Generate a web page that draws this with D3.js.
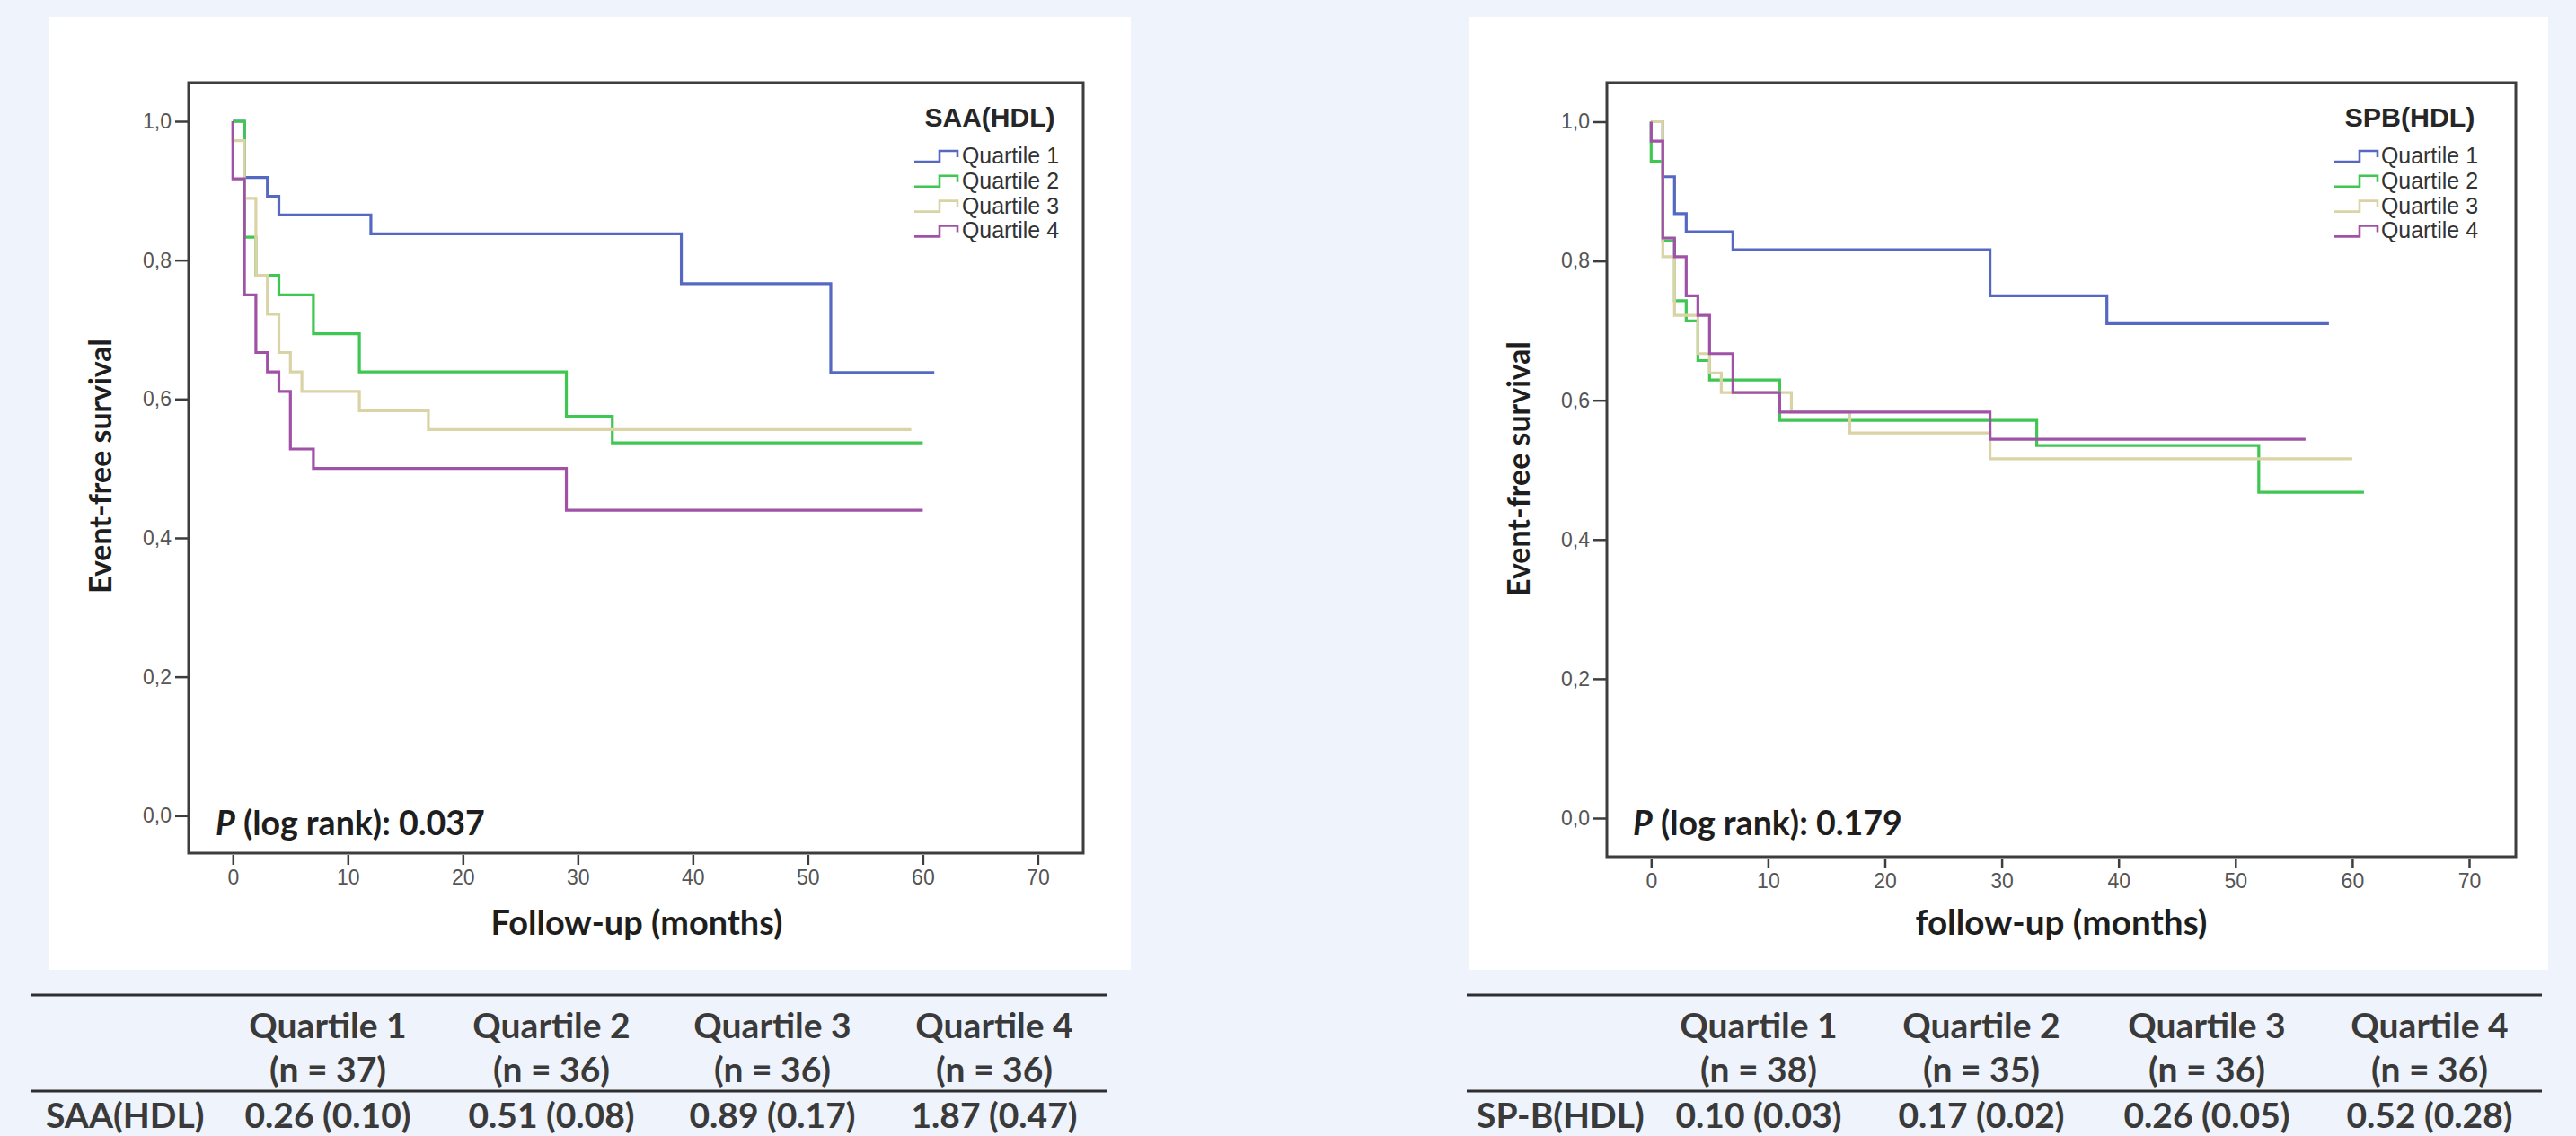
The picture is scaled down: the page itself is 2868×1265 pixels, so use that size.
<!DOCTYPE html>
<html>
<head>
<meta charset="utf-8">
<script src="https://cdn.jsdelivr.net/npm/d3@7"></script>
<style>
  html, body { margin: 0; padding: 0; background: #eef3fc; }
  svg { display: block; }
</style>
</head>
<body>
<svg id="chart" width="2868" height="1265"></svg>
<script>
// ---------------- DATA ----------------
const monthTicks = [0, 10, 20, 30, 40, 50, 60, 70];
const survivalTicks = [0, 0.2, 0.4, 0.6, 0.8, 1.0];
const quartileNames = ["Quartile 1", "Quartile 2", "Quartile 3", "Quartile 4"];
const seriesColors = ["#5569c2", "#3fc653", "#d9d3a6", "#a052a6"];

// Kaplan-Meier steps: [month, survival] (last point = end of follow-up)
const saaQ1 = [[0,1],[1,0.919],[3,0.892],[4,0.865],[12,0.838],[39,0.766],[52,0.638],[61,0.638]];
const saaQ2 = [[0,1],[1,0.833],[2,0.778],[4,0.750],[7,0.694],[11,0.639],[29,0.575],[33,0.537],[60,0.537]];
const saaQ3 = [[0,1],[0,0.972],[1,0.889],[2,0.778],[3,0.722],[4,0.667],[5,0.639],[6,0.611],[11,0.583],[17,0.556],[59,0.556]];
const saaQ4 = [[0,1],[0,0.917],[1,0.750],[2,0.667],[3,0.639],[4,0.611],[5,0.528],[7,0.500],[29,0.440],[60,0.440]];

const spbQ1 = [[0,1],[1,0.921],[2,0.868],[3,0.842],[7,0.816],[29,0.750],[39,0.710],[58,0.710]];
const spbQ2 = [[0,1],[0,0.943],[1,0.829],[2,0.743],[3,0.714],[4,0.657],[5,0.629],[11,0.571],[33,0.535],[52,0.468],[61,0.468]];
const spbQ3 = [[0,1],[1,0.806],[2,0.722],[4,0.667],[5,0.639],[6,0.611],[12,0.583],[17,0.553],[29,0.516],[60,0.516]];
const spbQ4 = [[0,1],[0,0.972],[1,0.833],[2,0.806],[3,0.750],[4,0.722],[5,0.667],[7,0.611],[11,0.583],[29,0.544],[56,0.544]];

// Tables
const saaCounts = ["(n = 37)", "(n = 36)", "(n = 36)", "(n = 36)"];
const saaValues = ["0.26 (0.10)", "0.51 (0.08)", "0.89 (0.17)", "1.87 (0.47)"];
const spbCounts = ["(n = 38)", "(n = 35)", "(n = 36)", "(n = 36)"];
const spbValues = ["0.10 (0.03)", "0.17 (0.02)", "0.26 (0.05)", "0.52 (0.28)"];

// ---------------- LAYOUT ----------------
const svg = d3.select("#chart");
svg.append("rect").attr("width", 2868).attr("height", 1265).attr("fill", "#eef3fc");

const panels = [
  {
    card: [54, 19, 1259, 1080],
    frame: [210, 92, 1206, 950],
    xRange: [259.3, 1155.4], yRange: [908.3, 135],
    series: [saaQ1, saaQ2, saaQ3, saaQ4],
    legendTitle: "SAA(HDL)", legendTitleX: 1102, legendSymX: 1018, legendTextX: 1071,
    xTitle: "Follow-up (months)", xTitleX: 709, yTitleX: 113, yTitleY: 519,
    pValue: "0.037", pX: 240,
    table: { x0: 35, x1: 1233, label: "SAA(HDL)", labelX: 51, cols: [365, 614, 860, 1107], counts: saaCounts, values: saaValues }
  },
  {
    card: [1636, 19, 2837, 1080],
    frame: [1789, 92, 2801, 954],
    xRange: [1838.3, 2749], yRange: [911, 135.5],
    series: [spbQ1, spbQ2, spbQ3, spbQ4],
    legendTitle: "SPB(HDL)", legendTitleX: 2683, legendSymX: 2599, legendTextX: 2651,
    xTitle: "follow-up (months)", xTitleX: 2295, yTitleX: 1692, yTitleY: 522,
    pValue: "0.179", pX: 1818,
    table: { x0: 1633, x1: 2830, label: "SP-B(HDL)", labelX: 1644, cols: [1958, 2206, 2457, 2705], counts: spbCounts, values: spbValues }
  }
];

const axisColor = "#3d3d3d";
const calibri = "Lato, 'Open Sans', sans-serif";
const arial = "'Liberation Sans', Arial, sans-serif";

function fit(sel, target) {
  const node = sel.node();
  const w = node.getComputedTextLength();
  const fs = parseFloat(sel.attr("font-size"));
  if (w > 0) sel.attr("font-size", (fs * target / w).toFixed(2));
  return sel;
}

panels.forEach(p => {
  // card
  svg.append("rect")
    .attr("x", p.card[0]).attr("y", p.card[1])
    .attr("width", p.card[2] - p.card[0]).attr("height", p.card[3] - p.card[1])
    .attr("fill", "#ffffff");

  const x = d3.scaleLinear().domain([0, 70]).range(p.xRange);
  const y = d3.scaleLinear().domain([0, 1]).range(p.yRange);

  const g = svg.append("g");

  // frame
  g.append("rect")
    .attr("x", p.frame[0]).attr("y", p.frame[1])
    .attr("width", p.frame[2] - p.frame[0]).attr("height", p.frame[3] - p.frame[1])
    .attr("fill", "none").attr("stroke", axisColor).attr("stroke-width", 3);

  // y axis
  const yAxis = g.append("g")
    .attr("transform", `translate(${p.frame[0] - 1},0)`)
    .call(d3.axisLeft(y).tickValues(survivalTicks).tickSize(14).tickPadding(4)
      .tickFormat(d => d3.format(".1f")(d).replace(".", ",")));
  yAxis.select(".domain").remove();
  yAxis.selectAll(".tick line").attr("stroke", axisColor).attr("stroke-width", 2.5);
  yAxis.selectAll(".tick text").attr("font-family", arial).attr("font-size", 23).attr("fill", "#555");

  // x axis
  const xAxis = g.append("g")
    .attr("transform", `translate(0,${p.frame[3] + 2})`)
    .call(d3.axisBottom(x).tickValues(monthTicks).tickSize(11).tickPadding(6));
  xAxis.select(".domain").remove();
  xAxis.selectAll(".tick line").attr("stroke", axisColor).attr("stroke-width", 2.5);
  xAxis.selectAll(".tick text").attr("font-family", arial).attr("font-size", 23).attr("fill", "#555");

  // survival curves
  const line = d3.line().x(d => x(d[0])).y(d => y(d[1])).curve(d3.curveStepAfter);
  p.series.forEach((s, i) => {
    g.append("path").datum(s)
      .attr("d", line)
      .attr("fill", "none")
      .attr("stroke", seriesColors[i])
      .attr("stroke-width", 3.2);
  });

  // legend
  const lt = g.append("text").text(p.legendTitle)
    .attr("x", p.legendTitleX).attr("y", 141)
    .attr("text-anchor", "middle")
    .attr("font-family", arial).attr("font-weight", "bold").attr("font-size", 28).attr("fill", "#262626");
  fit(lt, 145);
  quartileNames.forEach((name, i) => {
    const yc = 174 + i * 27.8;
    const sx = p.legendSymX;
    g.append("path")
      .attr("d", `M${sx},${yc + 6}H${sx + 28}V${yc - 6}H${sx + 48}V${yc + 1}`)
      .attr("fill", "none").attr("stroke", seriesColors[i]).attr("stroke-width", 2.6);
    const t = g.append("text").text(name)
      .attr("x", p.legendTextX).attr("y", yc + 8)
      .attr("font-family", arial).attr("font-size", 24).attr("fill", "#333");
    fit(t, 108);
  });

  // axis titles
  const xt = g.append("text").text(p.xTitle)
    .attr("x", p.xTitleX).attr("y", 1041)
    .attr("text-anchor", "middle")
    .attr("font-family", calibri).attr("font-weight", "bold").attr("font-size", 34).attr("fill", "#1e1e1e");
  fit(xt, 325);
  const yt = g.append("text").text("Event-free survival")
    .attr("transform", `translate(${p.yTitleX + 11},${p.yTitleY}) rotate(-90)`)
    .attr("text-anchor", "middle")
    .attr("font-family", calibri).attr("font-weight", "bold").attr("font-size", 34).attr("fill", "#1e1e1e");
  fit(yt, 284);

  // p value
  const pt = g.append("text")
    .attr("x", p.pX).attr("y", 930)
    .attr("font-family", calibri).attr("font-weight", "bold").attr("font-size", 32).attr("fill", "#1e1e1e");
  pt.append("tspan").attr("font-style", "italic").text("P");
  pt.append("tspan").text(" (log rank): " + p.pValue);
  fit(pt, 300);

  // table
  const tb = p.table;
  const tg = svg.append("g");
  [1108, 1215].forEach(ly => {
    tg.append("line").attr("x1", tb.x0).attr("x2", tb.x1).attr("y1", ly).attr("y2", ly)
      .attr("stroke", "#2e2e2e").attr("stroke-width", 3.2);
  });
  const tstyle = s => s.attr("font-family", calibri).attr("font-weight", "bold")
    .attr("font-size", 39).attr("fill", "#3a3a3a");
  quartileNames.forEach((name, i) => {
    tstyle(tg.append("text").text(name).attr("x", tb.cols[i]).attr("y", 1156).attr("text-anchor", "middle"));
    tstyle(tg.append("text").text(tb.counts[i]).attr("x", tb.cols[i]).attr("y", 1205).attr("text-anchor", "middle"));
    tstyle(tg.append("text").text(tb.values[i]).attr("x", tb.cols[i]).attr("y", 1256).attr("text-anchor", "middle"));
  });
  tstyle(tg.append("text").text(tb.label).attr("x", tb.labelX).attr("y", 1256));
});
</script>
</body>
</html>
